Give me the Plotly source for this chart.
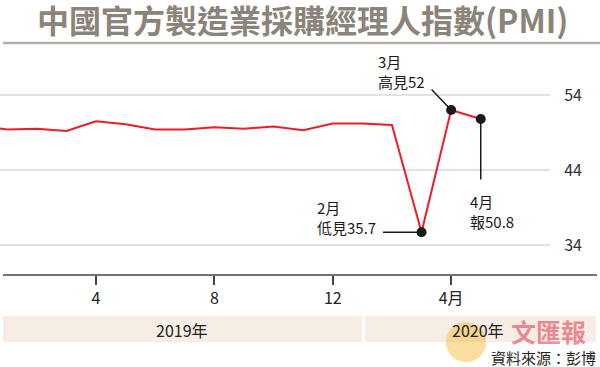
import plotly.graph_objects as go

# ---- data ----
month_index = list(range(-1, 17))  # -1 = Nov 2018 ... 16 = Apr 2020
pmi_values = [50.0, 49.4, 49.5, 49.2, 50.5, 50.1, 49.4, 49.4, 49.7, 49.5,
              49.8, 49.3, 50.2, 50.2, 50.0, 35.7, 52.0, 50.8]
tick_positions = [3, 7, 11, 15]
tick_labels = ["4", "8", "12", "4月"]
y_ticks = [34, 44, 54]
highlight_count = 3  # last three points marked

W, H = 600, 367
L, R, T, B = 0, 50, 50, 92
PW, PH = W - L - R, H - T - B
FONT = "Noto Sans CJK TC"


def px(xp):
    return (xp - L) / PW


def py(yp):
    return (H - B - yp) / PH


fig = go.Figure()
fig.add_trace(go.Scatter(
    x=month_index, y=pmi_values, mode="lines",
    line=dict(color="#ee1c25", width=2), hoverinfo="skip", showlegend=False,
))
fig.add_trace(go.Scatter(
    x=month_index[-highlight_count:], y=pmi_values[-highlight_count:], mode="markers",
    marker=dict(color="#1a1a1a", size=10), hoverinfo="skip", showlegend=False,
))

shapes = []
shapes.append(dict(type="line", xref="paper", yref="paper", x0=px(3), x1=px(600),
                   y0=py(43), y1=py(43), line=dict(color="#b3afa9", width=2.5)))
shapes.append(dict(type="line", xref="paper", yref="paper", x0=px(3), x1=px(597),
                   y0=py(275), y1=py(275), line=dict(color="#444444", width=1.5)))
shapes.append(dict(type="rect", xref="paper", yref="paper", x0=px(3), x1=px(362),
                   y0=py(342), y1=py(316), fillcolor="#f6ede5", line=dict(width=0), layer="below"))
shapes.append(dict(type="rect", xref="paper", yref="paper", x0=px(365), x1=px(596),
                   y0=py(342), y1=py(316), fillcolor="#f6ede5", line=dict(width=0), layer="below"))
shapes.append(dict(type="circle", xref="paper", yref="paper", x0=px(446), x1=px(486),
                   y0=py(362), y1=py(322), fillcolor="rgba(245,190,60,0.5)",
                   line=dict(width=0), layer="above"))

ann = []
ann.append(dict(text="<b>中國官方製造業採購經理人指數(PMI)</b>", xref="paper", yref="paper",
                x=px(302), y=py(19), showarrow=False, xanchor="center", yanchor="middle",
                font=dict(family=FONT, size=32, color="#8a847a")))
ann.append(dict(x=month_index[-2], y=pmi_values[-2], ax=-21, ay=-22, text="", showarrow=True,
                arrowhead=0, arrowwidth=1.5, arrowcolor="#1a1a1a", standoff=0))
ann.append(dict(x=month_index[-3], y=pmi_values[-3], ax=-40, ay=0, text="", showarrow=True,
                arrowhead=0, arrowwidth=1.5, arrowcolor="#1a1a1a", standoff=0))
ann.append(dict(x=month_index[-1], y=pmi_values[-1], ax=0, ay=62, text="", showarrow=True,
                arrowhead=0, arrowwidth=1.5, arrowcolor="#1a1a1a", standoff=0))
lab_font = dict(family=FONT, size=15, color="#1a1a1a")
ann.append(dict(x=month_index[-2], y=pmi_values[-2], text="3月<br>高見52", showarrow=False,
                xanchor="right", yanchor="bottom", align="left", xshift=-24, yshift=16, font=lab_font))
ann.append(dict(x=month_index[-3], y=pmi_values[-3], text="2月<br>低見35.7", showarrow=False,
                xanchor="right", yanchor="bottom", align="left", xshift=-44, yshift=-8, font=lab_font))
ann.append(dict(x=month_index[-1], y=pmi_values[-1], text="4月<br>報50.8", showarrow=False,
                xanchor="left", yanchor="top", align="left", xshift=-13, yshift=-70, font=lab_font))
band_font = dict(family=FONT, size=16, color="#222222")
ann.append(dict(text="2019年", xref="paper", yref="paper", x=px(182), y=py(330),
                showarrow=False, xanchor="center", yanchor="middle", font=band_font))
ann.append(dict(text="2020年", xref="paper", yref="paper", x=px(478), y=py(330),
                showarrow=False, xanchor="center", yanchor="middle", font=band_font))
ann.append(dict(text="<b>文匯報</b>", xref="paper", yref="paper", x=px(548), y=py(331),
                showarrow=False, xanchor="center", yanchor="middle",
                font=dict(family=FONT, size=25, color="rgba(225,70,85,0.6)")))
ann.append(dict(text="資料來源：彭博", xref="paper", yref="paper", x=px(598), y=py(357),
                showarrow=False, xanchor="right", yanchor="middle",
                font=dict(family=FONT, size=15, color="#222222")))

fig.update_layout(
    width=W, height=H, margin=dict(l=L, r=R, t=T, b=B),
    paper_bgcolor="white", plot_bgcolor="white",
    shapes=shapes, annotations=ann,
    xaxis=dict(range=[-0.243, 18.34], tickmode="array", tickvals=tick_positions,
               ticktext=tick_labels, ticks="outside", ticklen=9, tickwidth=1.5,
               tickcolor="#444444", showgrid=False, zeroline=False, showline=False,
               tickfont=dict(family=FONT, size=16, color="#222222"), fixedrange=True),
    yaxis=dict(range=[30, 60], side="right", tickmode="array", tickvals=y_ticks,
               showgrid=True, gridcolor="#e2e2e2", gridwidth=1.5, zeroline=False,
               showline=False, ticks="outside", ticklen=10, tickcolor="rgba(0,0,0,0)",
               tickfont=dict(family=FONT, size=16, color="#333333"), fixedrange=True),
)

fig.write_html("out.html", config={"displayModeBar": False},
               post_script="document.body.style.margin='0';document.body.style.overflow='hidden';")
